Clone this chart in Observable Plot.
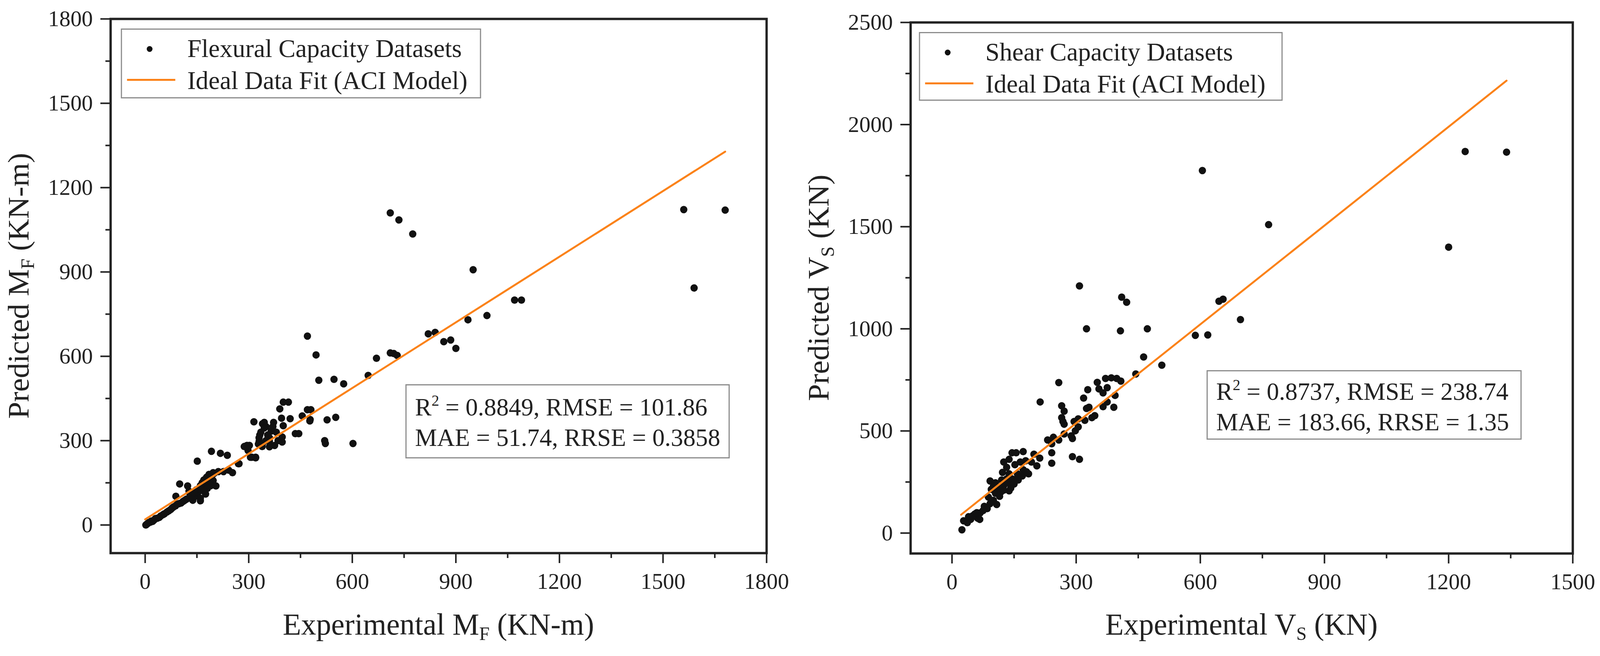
<!DOCTYPE html>
<html>
<head>
<meta charset="utf-8">
<script src="https://cdn.jsdelivr.net/npm/d3@7"></script>
<script src="https://cdn.jsdelivr.net/npm/@observablehq/plot@0.6"></script>
<style>
  body { margin: 0; background: #fff; overflow: hidden; }
  #wrap { position: relative; width: 4144px; height: 1680px; transform-origin: 0 0; font-family: "Liberation Serif", "Times New Roman", serif; color: #222; }
  .panel { position: absolute; top: 0; width: 2072px; height: 1680px; }
  .panel svg { position: absolute; left: 0; top: 0; }
  .box { position: absolute; box-sizing: border-box; border: 3px solid #8c8c8c; background: #fff; }
  sub { font-size: 0.62em; vertical-align: -0.28em; line-height: 0; }
  sup { font-size: 0.62em; vertical-align: 0.62em; line-height: 0; }
</style>
</head>
<body>
<div id="wrap"></div>
<script>
// flexural capacity: [experimental, predicted] (KN-m)
const flexPoints = [
  [2,0],[5,3],[8,6],[11,9],[15,10],[18,14],[22,13],[26,18],[30,23],[35,24],[41,27],[45,32],[52,37],[56,40],
  [63,46],[68,50],[74,55],[78,60],[82,64],[88,68],[93,74],[98,76],[104,78],[110,84],[115,88],[120,92],
  [89,102],[100,146],[123,139],[127,120],[138,88],[145,102],[160,86],[153,116],[168,125],[175,139],[182,153],
  [186,176],[197,186],[205,139],[212,190],[197,158],[227,190],[242,195],[253,186],[151,227],[192,262],[218,255],
  [238,248],[272,218],[287,279],[302,283],[298,265],[309,241],[320,241],[332,320],[339,279],[328,288],
  [130,110],[135,100],[140,115],[148,125],[155,130],[160,140],[165,150],[170,160],[178,170],[185,180],[190,170],
  [195,178],[200,184],[180,130],[170,120],[190,140],[175,110],[160,95],
  [290,280],[295,283],[305,241],[320,239],[270,218],[330,297],[360,278],[375,283],[397,295],[335,330],[365,334],
  [435,325],[445,325],[315,367],[340,360],[345,365],[350,350],[345,345],[372,365],[400,353],[395,380],[420,378],
  [455,388],[477,370],[470,410],[480,410],[390,413],[400,437],[415,437],[527,374],[552,383],[520,300],[522,290],
  [602,290],[503,515],[547,518],[575,502],[646,532],[350,300],[355,320],[360,310],[380,330],[385,300],[370,350],
  [330,310],[340,290],[478,375],[360,298],[397,313],
  [470,672],[495,605],[670,593],[710,612],[720,610],[730,603],[710,1110],[735,1085],[775,1035],[950,908],
  [935,730],[990,745],[1070,800],[1090,800],[820,680],[840,685],[865,652],[885,658],[900,628],
  [1560,1122],[1680,1120],[1590,843]
];
const flexFit = [[0, 20], [1680, 1328]];

// shear capacity: [experimental, predicted] (KN)
const shearPoints = [
  [24,16],[28,60],[37,51],[45,67],[62,73],[67,67],[55,93],[68,99],[78,131],[92,144],[108,140],[88,176],[105,195],
  [118,201],[138,207],[142,220],[95,214],[112,220],[125,233],[92,255],[105,246],[135,246],[145,265],[132,265],
  [122,297],[138,290],[158,290],[185,290],[125,348],[138,361],[145,393],[155,393],[172,399],[132,322],[152,335],
  [165,348],[178,354],[192,348],[198,386],[212,367],[205,329],[172,310],[158,271],[241,342],[291,374],[308,361],
  [241,393],[241,437],[231,456],[245,469],[258,456],[271,485],[288,476],[291,463],[298,501],[305,520],[268,546],
  [271,533],[265,565],[295,546],[305,559],[271,597],[265,623],[321,552],[338,565],[345,575],[325,610],[331,616],
  [318,661],[328,702],[365,619],[375,642],[391,616],[394,674],[351,738],[355,706],[365,686],[375,712],[371,757],
  [385,760],[398,757],[408,744],[444,779],[258,737],[213,642],
  [40,80],[50,85],[75,110],[85,120],[100,160],[115,180],[125,210],[150,240],[160,260],[170,280],[180,300],
  [100,230],[120,260],[60,100],
  [605,1775],[1240,1868],[1340,1865],[765,1510],[1200,1400],[308,1210],[410,1155],[422,1130],[645,1135],
  [655,1145],[697,1045],[325,1000],[407,990],[472,1000],[588,968],[618,970],[463,862],[507,822]
];
const shearFit = [[22, 90], [1340, 2215]];

const flexTicks = [0, 300, 600, 900, 1200, 1500, 1800];
const flexMinor = [150, 450, 750, 1050, 1350, 1650];
const shearXTicks = [0, 300, 600, 900, 1200, 1500];
const shearXMinor = [150, 450, 750, 1050, 1350];
const shearYTicks = [0, 500, 1000, 1500, 2000, 2500];
const shearYMinor = [250, 750, 1250, 1750, 2250];

const orange = "#fb8219";
const ink = "#222";

function chart({points, fit, xDomain, yDomain, xTicks, xMinor, yTicks, yMinor, margin}) {
  return Plot.plot({
    width: 2072,
    height: 1680,
    marginLeft: margin[0],
    marginRight: margin[1],
    marginTop: margin[2],
    marginBottom: margin[3],
    x: {domain: xDomain},
    y: {domain: yDomain},
    style: {fontFamily: '"Liberation Serif", "Times New Roman", serif', fontSize: "58px", color: ink, background: "transparent"},
    marks: [
      Plot.axisX({ticks: xTicks, tickSize: 26, tickPadding: 24, strokeWidth: 4, label: null, tickFormat: d => String(d)}),
      Plot.axisX({ticks: xMinor, tickSize: 13, strokeWidth: 4, text: null, label: null}),
      Plot.axisY({ticks: yTicks, tickSize: 26, tickPadding: 20, strokeWidth: 4, label: null, tickFormat: d => String(d)}),
      Plot.axisY({ticks: yMinor, tickSize: 13, strokeWidth: 4, text: null, label: null}),
      Plot.dot(points, {x: d => d[0], y: d => d[1], r: 9.5, fill: "#111"}),
      Plot.line(fit, {x: d => d[0], y: d => d[1], stroke: orange, strokeWidth: 5}),
      Plot.frame({stroke: ink, strokeWidth: 6})
    ]
  });
}

function el(parent, html, css) {
  const d = document.createElement("div");
  d.innerHTML = html;
  Object.assign(d.style, {position: "absolute", whiteSpace: "nowrap"}, css);
  parent.appendChild(d);
  return d;
}

function panel(left, cfg, text) {
  const p = el(document.getElementById("wrap"), "", {left: left + "px"});
  p.className = "panel";
  p.appendChild(chart(cfg));

  const [ml, mr, mt, mb] = cfg.margin;
  const cx = (ml + 2072 - mr) / 2;
  const cy = (mt + 1680 - mb) / 2;

  // axis titles
  el(p, text.xTitle, {left: (cx - 700) + "px", width: "1400px", top: "1560px", textAlign: "center", fontSize: "78px", lineHeight: "78px"});
  el(p, text.yTitle, {left: (48 - 500) + "px", width: "1000px", top: (cy - 45) + "px", height: "90px", textAlign: "center",
    fontSize: "78px", lineHeight: "90px", transform: "rotate(-90deg)"});

  // legend
  const lg = el(p, "", {left: text.legend[0] + "px", top: text.legend[1] + "px", width: text.legend[2] + "px", height: text.legend[3] + "px"});
  lg.className = "box";
  el(lg, "", {left: "64px", top: "42px", width: "15px", height: "15px", borderRadius: "50%", background: "#111"});
  el(lg, "", {left: "13px", top: "126px", width: "125px", height: "5px", background: orange});
  el(lg, text.series, {left: "169px", top: (73 - 55 - 3) + "px", fontSize: "66px", lineHeight: "66px"});
  el(lg, "Ideal Data Fit (ACI Model)", {left: "169px", top: (155 - 55 - 3) + "px", fontSize: "66px", lineHeight: "66px"});

  // statistics box
  const sb = el(p, "", {left: text.stats[0] + "px", top: text.stats[1] + "px", width: text.stats[2] + "px", height: text.stats[3] + "px"});
  sb.className = "box";
  el(sb, text.line1, {left: "22px", top: (text.base[0] - 54 - 3) + "px", fontSize: "64px", lineHeight: "64px"});
  el(sb, text.line2, {left: "22px", top: (text.base[1] - 54 - 3) + "px", fontSize: "64px", lineHeight: "64px"});
}

panel(0, {
  points: flexPoints, fit: flexFit,
  xDomain: [-100, 1800], yDomain: [-100, 1800],
  xTicks: flexTicks, xMinor: flexMinor, yTicks: flexTicks, yMinor: flexMinor,
  margin: [286, 87, 48, 264]
}, {
  xTitle: "Experimental M<sub>F</sub> (KN-m)",
  yTitle: "Predicted M<sub>F</sub> (KN-m)",
  series: "Flexural Capacity Datasets",
  legend: [313, 73, 933, 179],
  stats: [1050, 984, 840, 190],
  base: [81, 159],
  line1: "R<sup>2</sup> = 0.8849, RMSE = 101.86",
  line2: "MAE = 51.74, RRSE = 0.3858"
});

panel(2072, {
  points: shearPoints, fit: shearFit,
  xDomain: [-100, 1500], yDomain: [-100, 2500],
  xTicks: shearXTicks, xMinor: shearXMinor, yTicks: shearYTicks, yMinor: shearYMinor,
  margin: [286, 71, 57, 263]
}, {
  xTitle: "Experimental V<sub>S</sub> (KN)",
  yTitle: "Predicted V<sub>S</sub> (KN)",
  series: "Shear Capacity Datasets",
  legend: [308, 82, 942, 176],
  stats: [1053, 948, 816, 178],
  base: [77, 155],
  line1: "R<sup>2</sup> = 0.8737, RMSE = 238.74",
  line2: "MAE = 183.66, RRSE = 1.35"
});

// the browser window may be narrower than the 4144px layout: squeeze it to fit
const fit = Math.min(1, window.innerWidth / 4144);
document.getElementById("wrap").style.transform = "scale(" + fit + ", 1)";
</script>
</body>
</html>
